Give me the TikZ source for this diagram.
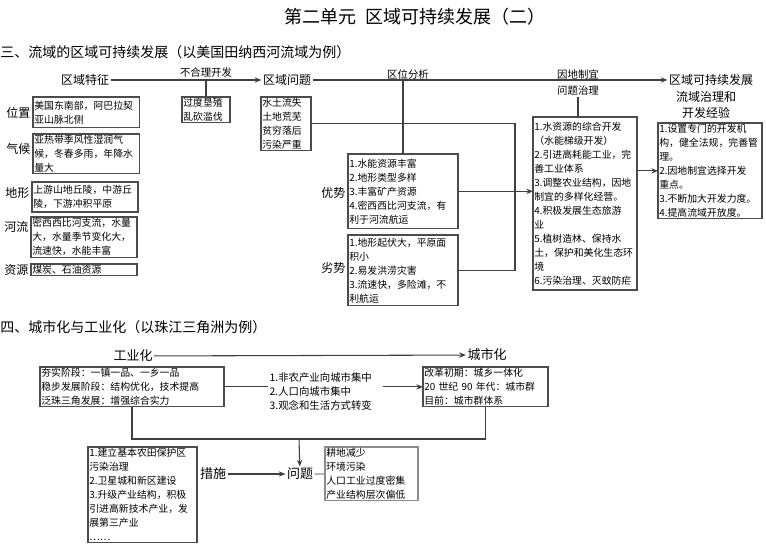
\documentclass[tikz,border=0pt]{standalone}
\usepackage{fontspec}
\setmainfont{Noto Sans CJK SC}
\usetikzlibrary{arrows.meta}

\tikzset{
  box/.style={draw=black!70, line width=0.8pt, anchor=north west, inner sep=1pt, outer sep=0pt, align=left, font=\fontsize{7.4}{10.5}\selectfont},
  tag/.style={inner sep=1pt, font=\fontsize{9}{11}\selectfont},
  tagb/.style={inner sep=1pt, font=\fontsize{9.75}{12}\selectfont},
  note/.style={inner sep=1pt, font=\fontsize{7.8}{10.5}\selectfont},
  head/.style={anchor=west, inner sep=0pt, font=\fontsize{10.5}{12}\selectfont},
  link/.style={draw=black!75, line width=0.8pt},
  arr/.style={link, -{Stealth[length=5pt,width=4pt]}},
}

\begin{document}
\begin{tikzpicture}[x=0.75pt,y=0.75pt,yscale=-1,xscale=1]
\useasboundingbox (0,0) rectangle (766,553);

% Title
\node[font=\fontsize{13.5}{16}\selectfont] (title) at (415,17) {第二单元\ \ 区域可持续发展（二）};
% Section heads
\node[head] (sec3) at (0,52) {三、流域的区域可持续发展（以美国田纳西河流域为例）};
\node[head] (sec4) at (0,327) {四、城市化与工业化（以珠江三角洲为例）};

% Text Node
\node[tag] (tz) at (85,80) {区域特征};
% Text Node
\node[tag] (wt) at (287,80) {区域问题};
% Text Node
\node[tag] (fz) at (711,80) {区域可持续发展};
% Text Node
\node[tag] (fzb) at (706,97) {流域治理和};
% Text Node
\node[tag] (fzc) at (706,113) {开发经验};
% Text Node
\node[note] (bhl) at (206,73) {不合理开发};
% Text Node
\node[note] (qw) at (408,75) {区位分析};
% Text Node
\node[note] (yd) at (578,75) {因地制宜};
% Text Node
\node[note] (zl) at (578,91) {问题治理};

% Features
\node[box, text width=78pt, minimum height=23pt] (wz) at (33,97) {美国东南部，阿巴拉契\\亚山脉北侧};
\node[box, text width=78pt] (qh) at (33,134) {亚热带季风性湿润气\\候，冬春多雨，年降水\\量大};
\node[box, text width=77.5pt, minimum height=22.5pt] (dx) at (32,182) {上游山地丘陵，中游丘\\陵，下游冲积平原};
\node[box, text width=77.5pt] (hl) at (31,217) {密西西比河支流，水量\\大，水量季节变化大，\\流速快，水能丰富};
\node[box, text width=77.5pt] (zy) at (31,264) {煤炭、石油资源};
% Text Node
\node[tag, anchor=east] (wzl) at (32,113) {位置};
\node[tag, anchor=east] (qhl) at (32,149) {气候};
\node[tag, anchor=east] (dxl) at (31,193) {地形};
\node[tag, anchor=east] (hll) at (30,227) {河流};
\node[tag, anchor=east] (zyl) at (30,270) {资源};

% Problems
\node[box, text width=34pt] (kc) at (182,97) {过度垦殖\\乱砍滥伐};
\node[box, text width=35.5pt] (wtb) at (261,97) {水土流失\\土地荒芜\\贫穷落后\\污染严重};
% Analysis
\node[box, text width=80.5pt, minimum height=56pt] (ys) at (348,154) {1.水能资源丰富\\2.地形类型多样\\3.丰富矿产资源\\4.密西西比河支流，有\\利于河流航运};
\node[box, text width=80.5pt, minimum height=53pt] (ls) at (348,235) {1.地形起伏大，平原面\\积小\\2.易发洪涝灾害\\3.流速快，多险滩，不\\利航运};
\node[tag, anchor=east] (ysl) at (347,193) {优势};
\node[tag, anchor=east] (lsl) at (347,268) {劣势};
% Measures
\node[box, text width=76pt, minimum height=129.75pt] (cs) at (533,117) {1.水资源的综合开发\\（水能梯级开发）\\2.引进高耗能工业，完\\善工业体系\\3.调整农业结构，因地\\制宜的多样化经营。\\4.积极发展生态旅游\\业\\5.植树造林、保持水\\土，保护和美化生态环\\境\\6.污染治理、灭蚊防疟};
\node[box, text width=76pt] (jy) at (658,123) {1.设置专门的开发机\\构，健全法规，完善管\\理。\\2.因地制宜选择开发\\重点。\\3.不断加大开发力度。\\4.提高流域开放度。};

% Connection
\draw[arr] (tz) -- (wt);
% Connection
\draw[arr] (wt) -- (fz);
% Connection
\draw[link] (kc.north) -- (kc.north |- tz);
% Connection
\draw[link] (ys.north) -- (ys.north |- wt);
% Connection
\draw[link] (zl.south) -- (zl.south |- cs.north);
% Connection
\coordinate (rt) at (515,121);
\draw[link] (wtb.east) -| (rt |- ls.east) -- (ls.east);
% Connection
\draw[arr] (ys.east) -- (ys.east -| cs.west);
% Connection
\draw[arr] (jy.west -| cs.east) -- (jy.west);

% Lower part
\node[tagb] (gy) at (133,356) {工业化};
\node[tagb] (csh) at (487,355) {城市化};
\node[box, text width=136pt] (b1) at (40,367) {夯实阶段：一镇一品、一乡一品\\稳步发展阶段：结构优化，技术提高\\泛珠三角发展：增强综合实力};
\node[note, anchor=west, align=left] (mid) at (268,392) {1.非农产业向城市集中\\2.人口向城市集中\\3.观念和生活方式转变};
\node[box, text width=91.75pt] (b2) at (423,367) {改革初期：城乡一体化\\20 世纪 90 年代：城市群\\目前：城市群体系};
\node[tagb] (wt2) at (300,474) {问题};
\node[tagb] (cs3) at (213,474) {措施};
\node[box, draw=black!45, text width=67.75pt] (b3) at (325,447) {耕地减少\\环境污染\\人口工业过度密集\\产业结构层次偏低};
\node[box, text width=79.75pt] (b4) at (88,447) {1.建立基本农田保护区\\污染治理\\2.卫星城和新区建设\\3.升级产业结构，积极\\引进高新技术产业，发\\展第三产业\\……};

% Connection
\draw[arr] (gy) -- (csh);
% Connection
\draw[link] (b1.east) -- (b1.east -| mid.west);
% Connection
\coordinate (ms) at (383,389);
\draw[arr] (ms |- b2.west) -- (b2.west);
% Connection
\coordinate (hub) at (299,439);
\draw[link] (b1.south) |- (hub) -| (b2.south);
% Connection
\draw[arr] (hub) -- (wt2);
% Connection
\draw[arr] (cs3) -- (wt2);
% Connection
\draw[link, draw=black!45] (wt2) -- (b3);

\end{tikzpicture}
\end{document}
